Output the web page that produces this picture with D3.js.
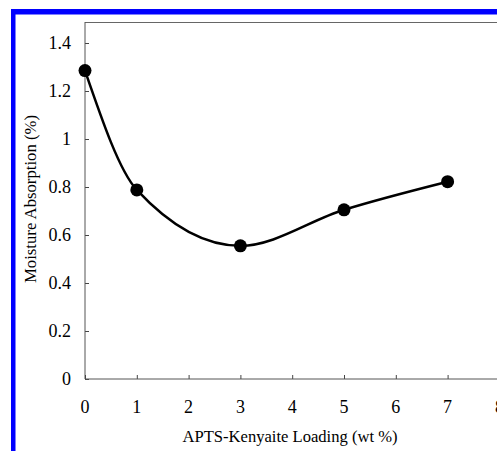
<!DOCTYPE html>
<html>
<head>
<meta charset="utf-8">
<script src="https://cdn.jsdelivr.net/npm/d3@7"></script>
<style>
  body { margin: 0; background: #fff; }
</style>
</head>
<body>
<div id="chart"></div>
<script>
// data
const loading = [0, 1, 3, 5, 7];
const moisture = [1.285, 0.788, 0.555, 0.705, 0.822];
const xTicks = [0, 1, 2, 3, 4, 5, 6, 7, 8];
const yTicks = [0, 0.2, 0.4, 0.6, 0.8, 1, 1.2, 1.4];

const W = 497, H = 451;
const margin = { top: 22, left: 85, bottom: 72 };
const serif = "'Liberation Serif', 'DejaVu Serif', 'Times New Roman', serif";

const svg = d3.select("#chart").append("svg")
  .attr("width", W).attr("height", H)
  .attr("font-family", serif);

// blue frame (left and top bars)
svg.append("rect").attr("x", 11).attr("y", 9).attr("width", 4.5).attr("height", H - 9).attr("fill", "#0000ff");
svg.append("rect").attr("x", 11).attr("y", 9).attr("width", W - 11).attr("height", 5.5).attr("fill", "#0000ff");

const x = d3.scaleLinear().domain([0, 8]).range([margin.left, margin.left + 8 * 51.8]);
const y = d3.scaleLinear().domain([0, 1.4]).range([379, 43]);

const g = svg.append("g");

// plot frame: top line
g.append("line")
  .attr("x1", x(0)).attr("x2", W)
  .attr("y1", margin.top + 0.5).attr("y2", margin.top + 0.5)
  .attr("stroke", "#666").attr("stroke-width", 1);

// Y axis
const yAxis = g.append("g")
  .attr("transform", `translate(${x(0)},0)`)
  .call(d3.axisRight(y).tickValues(yTicks).tickSize(4));
yAxis.select(".domain").remove();
yAxis.selectAll(".tick text").remove();
yAxis.selectAll(".tick line").attr("stroke", "#444");
g.append("line")
  .attr("x1", x(0)).attr("x2", x(0))
  .attr("y1", margin.top).attr("y2", y(0))
  .attr("stroke", "#555");
g.selectAll(".ylab").data(yTicks).enter().append("text")
  .attr("class", "ylab")
  .attr("x", 71).attr("y", d => y(d) + 6)
  .attr("text-anchor", "end")
  .attr("font-family", serif)
  .style("font-size", "18px")
  .text(d => d3.format("")(d));

// X axis
const xAxis = g.append("g")
  .attr("transform", `translate(0,${y(0)})`)
  .call(d3.axisTop(x).tickValues(xTicks).tickSize(4));
xAxis.select(".domain").remove();
xAxis.selectAll(".tick text").remove();
xAxis.selectAll(".tick line").attr("stroke", "#444");
g.append("line")
  .attr("x1", x(0)).attr("x2", W)
  .attr("y1", y(0)).attr("y2", y(0))
  .attr("stroke", "#555");
g.selectAll(".xlab").data(xTicks).enter().append("text")
  .attr("class", "xlab")
  .attr("x", d => x(d)).attr("y", 413)
  .attr("text-anchor", "middle")
  .attr("font-family", serif)
  .style("font-size", "18px")
  .text(d => d);

// axis titles
g.append("text")
  .attr("x", 290).attr("y", 442)
  .attr("text-anchor", "middle")
  .attr("font-family", serif)
  .attr("textLength", 215).attr("lengthAdjust", "spacingAndGlyphs")
  .style("font-size", "17px")
  .text("APTS-Kenyaite Loading (wt %)");

g.append("text")
  .attr("transform", "translate(36,199) rotate(-90)")
  .attr("text-anchor", "middle")
  .attr("font-family", serif)
  .attr("textLength", 168).attr("lengthAdjust", "spacingAndGlyphs")
  .style("font-size", "17px")
  .text("Moisture Absorption (%)");

// smoothed line
const pts = loading.map((d, i) => [d, moisture[i]]);
const line = d3.line()
  .x(d => x(d[0])).y(d => y(d[1]))
  .curve(d3.curveMonotoneX);
g.append("path").datum(pts)
  .attr("d", line)
  .attr("fill", "none")
  .attr("stroke", "#000")
  .attr("stroke-width", 2.5);

// markers
g.selectAll(".dot").data(pts).enter().append("circle")
  .attr("class", "dot")
  .attr("cx", d => x(d[0])).attr("cy", d => y(d[1]))
  .attr("r", 6.5)
  .attr("fill", "#000");
</script>
</body>
</html>
